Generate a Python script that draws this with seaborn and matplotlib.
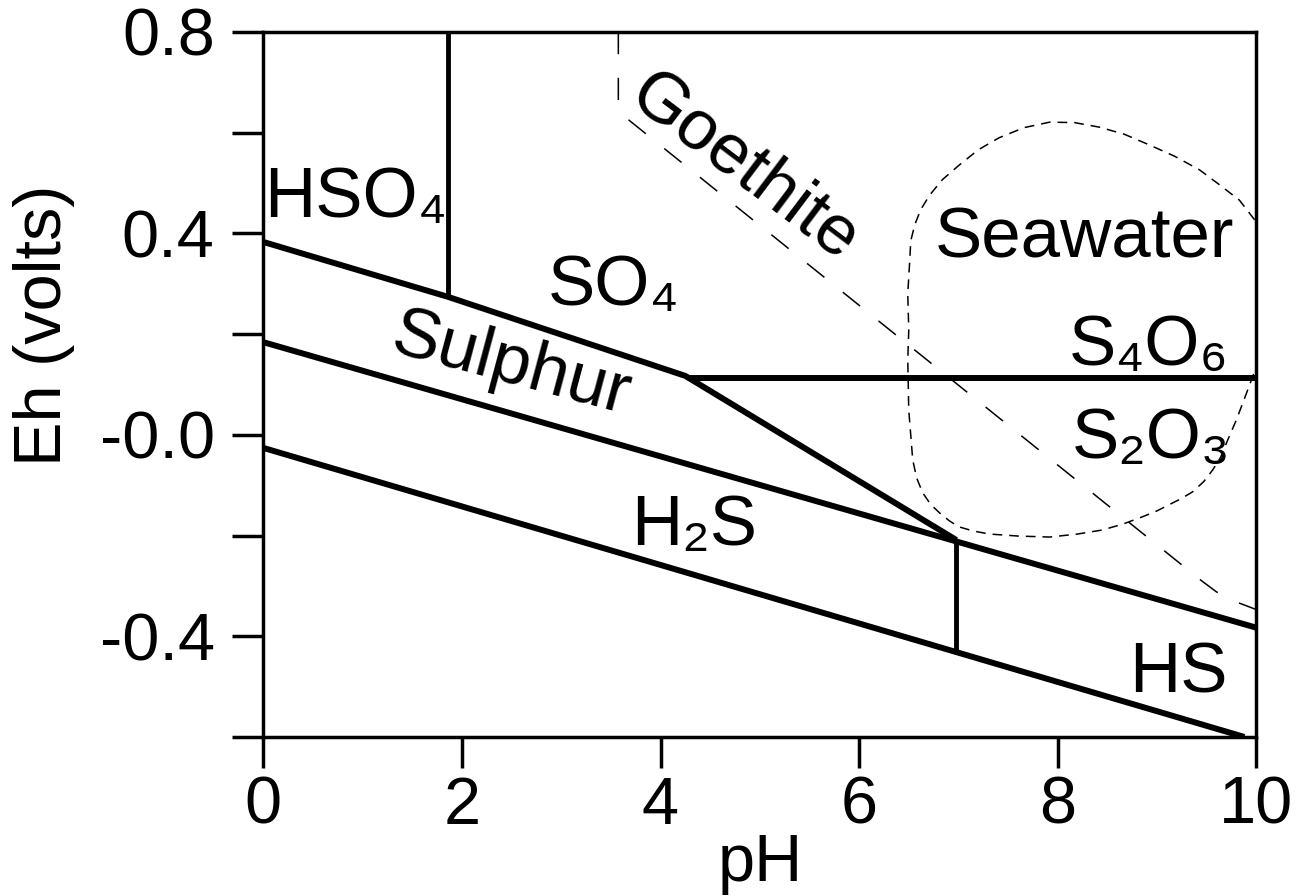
import matplotlib
matplotlib.use("Agg")
import matplotlib.pyplot as plt
import seaborn as sns
from matplotlib.ticker import FixedLocator, FixedFormatter

sns.set_theme(style="ticks")
plt.rcParams["font.family"] = ["Liberation Sans", "DejaVu Sans"]
plt.rcParams["text.color"] = "black"
plt.rcParams["axes.labelcolor"] = "black"
plt.rcParams["lines.scale_dashes"] = False

# Stability field boundaries (pH, Eh in volts)
upper_ph = [0.0, 1.86, 4.25, 6.98]
upper_eh = [0.383, 0.274, 0.117, -0.209]

hso4_ph = [1.86, 1.86]
hso4_eh = [0.80, 0.274]

thio_ph = [4.30, 10.0]
thio_eh = [0.112, 0.112]

sulphur_ph = [0.0, 10.0]
sulphur_eh = [0.184, -0.383]

h2s_ph = [0.0, 9.88]
h2s_eh = [-0.026, -0.600]

hs_ph = [6.98, 6.98]
hs_eh = [-0.209, -0.430]

# Goethite stability limit
goethite_ph = [3.575, 3.575, 3.65, 9.45, 9.60, 9.80, 10.0]
goethite_eh = [0.80, 0.649, 0.630, -0.290, -0.312, -0.332, -0.347]

# Seawater Eh-pH envelope
seawater_ph = [10.12, 10.05, 9.83, 9.62, 9.43, 9.18, 8.92, 8.67, 8.42, 8.17, 7.92,
               7.66, 7.41, 7.20, 7.01, 6.84, 6.71, 6.62, 6.56, 6.52, 6.51, 6.49,
               6.50, 6.49, 6.50, 6.54, 6.58, 6.64, 6.72, 6.81, 6.91, 7.01, 7.15,
               7.31, 7.60, 7.92, 8.20, 8.45, 8.66, 8.85, 9.00, 9.12, 9.25, 9.36,
               9.47, 9.56, 9.64, 9.70, 9.80, 9.90, 10.0, 10.12]
seawater_eh = [0.300, 0.410, 0.466, 0.498, 0.526, 0.553, 0.576, 0.597, 0.611, 0.620, 0.621,
               0.610, 0.590, 0.566, 0.536, 0.507, 0.476, 0.447, 0.417, 0.385, 0.347, 0.280,
               0.208, 0.149, 0.049, -0.050, -0.086, -0.115, -0.138, -0.155, -0.171, -0.183, -0.191,
               -0.197, -0.201, -0.203, -0.197, -0.189, -0.177, -0.163, -0.151, -0.139, -0.126, -0.113,
               -0.093, -0.070, -0.045, -0.016, 0.030, 0.082, 0.135, 0.300]

# Field labels
labels = ["HSO₄", "SO₄", "Seawater", "S₄O₆", "S₂O₃", "H₂S", "HS"]
label_ph = [0.93, 3.53, 8.27, 8.92, 8.94, 4.34, 9.22]
label_eh = [0.433, 0.258, 0.353, 0.139, -0.046, -0.219, -0.511]

rot_labels = ["Goethite", "Sulphur"]
rot_ph = [4.84, 2.50]
rot_eh = [0.53, 0.137]
rot_angle = [-37, -15]

xticks = [0, 2, 4, 6, 8, 10]
xticklabels = ["0", "2", "4", "6", "8", "10"]
yticks = [0.8, 0.6, 0.4, 0.2, 0.0, -0.2, -0.4, -0.6]
yticklabels = ["0.8", "", "0.4", "", "-0.0", "", "-0.4", ""]

fig = plt.figure(figsize=(13.07, 8.96), dpi=100)
ax = fig.add_axes([0.2015, 0.1775, 0.7597, 0.7868])

def draw(xs, ys, lw, ls="-"):
    sns.lineplot(x=xs, y=ys, sort=False, estimator=None, color="black",
                 linewidth=lw, linestyle=ls, ax=ax, solid_capstyle="butt",
                 solid_joinstyle="miter")

draw(upper_ph, upper_eh, 4.3)
draw(hso4_ph, hso4_eh, 3.5)
draw(thio_ph, thio_eh, 4.3)
draw(sulphur_ph, sulphur_eh, 4.3)
draw(h2s_ph, h2s_eh, 4.3)
draw(hs_ph, hs_eh, 3.5)
draw(goethite_ph, goethite_eh, 1.1, (0, (16, 17)))
draw(seawater_ph, seawater_eh, 1.1, (0, (7, 5)))

for t, x, y in zip(labels, label_ph, label_eh):
    ax.text(x, y, t, fontsize=51, ha="center", va="baseline")
for t, x, y, r in zip(rot_labels, rot_ph, rot_eh, rot_angle):
    ax.text(x, y, t, fontsize=51, ha="center", va="center", rotation=r)

ax.set_xlim(0, 10)
ax.set_ylim(-0.6, 0.8)
ax.xaxis.set_major_locator(FixedLocator(xticks))
ax.xaxis.set_major_formatter(FixedFormatter(xticklabels))
ax.yaxis.set_major_locator(FixedLocator(yticks))
ax.yaxis.set_major_formatter(FixedFormatter(yticklabels))
ax.tick_params(axis="both", direction="out", length=22, width=2.5,
               color="black", labelsize=48, labelcolor="black")
ax.tick_params(axis="y", pad=13)
ax.tick_params(axis="x", pad=6)
for s in ax.spines.values():
    s.set_linewidth(2.5)
    s.set_color("black")
    s.set_visible(True)

ax.set_xlabel("pH", fontsize=48, color="black")
ax.set_ylabel("Eh (volts)", fontsize=48, color="black")
ax.xaxis.set_label_coords(0.5, -0.136)
ax.yaxis.set_label_coords(-0.19, 0.584)
ax.grid(False)

fig.savefig("out.png", dpi=100, facecolor="white")
